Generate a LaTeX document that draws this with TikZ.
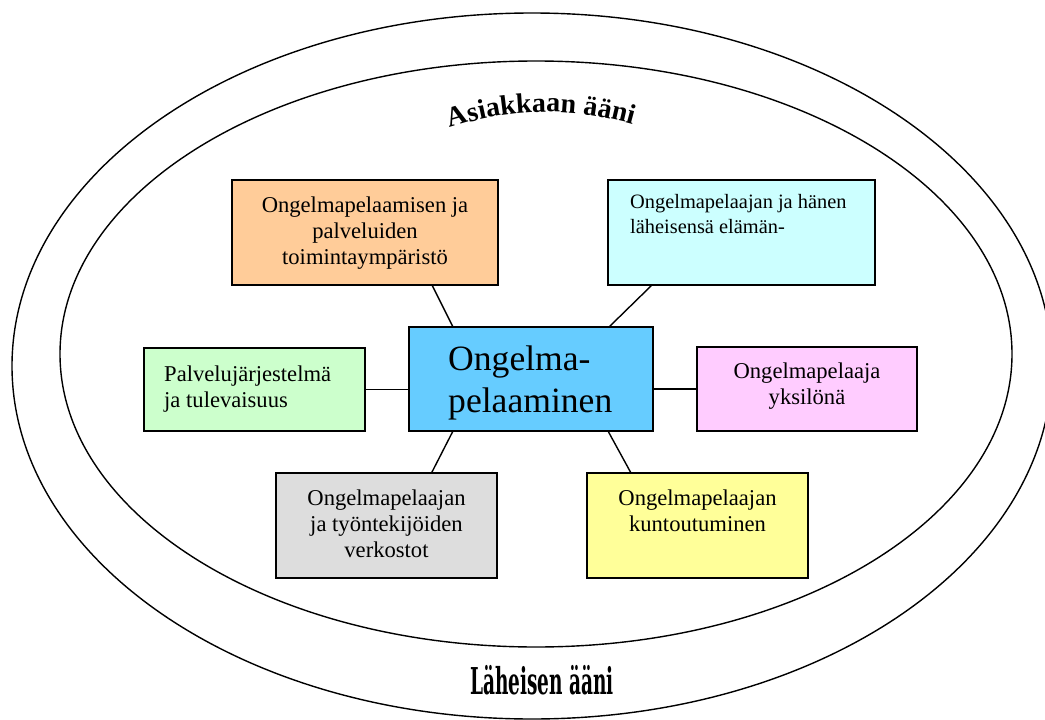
\documentclass[tikz,border=0pt]{standalone}
\usepackage{fontspec}
\setmainfont{Liberation Serif}
\newfontfamily\titlefont{DejaVu Serif}
\usetikzlibrary{decorations.text}
\definecolor{corange}{HTML}{FFCC99}
\definecolor{ccyan}{HTML}{CCFFFF}
\definecolor{cblue}{HTML}{66CCFF}
\definecolor{cgreen}{HTML}{CCFFCC}
\definecolor{cpink}{HTML}{FFCCFF}
\definecolor{cgray}{HTML}{DDDDDD}
\definecolor{cyellow}{HTML}{FFFF99}
\begin{document}
\begin{tikzpicture}[x=1pt,y=-1pt,
  box/.style={draw=black, line width=1.6pt, inner sep=0pt, outer sep=0pt},
  lbl/.style={inner sep=0pt, font=\fontsize{22.6}{26}\selectfont},
  smalllbl/.style={inner sep=0pt, font=\fontsize{20.4}{25}\selectfont},
  bigl/.style={inner sep=0pt, font=\fontsize{35.6}{42}\selectfont},
  ring/.style={draw=black, line width=1.4pt},
  link/.style={draw=black, line width=1.4pt}]
\useasboundingbox (0,0) rectangle (1045,720);
\fill[white] (0,0) rectangle (1045,720);
% ellipses
\draw[ring] (532,366) ellipse [x radius=520, y radius=353];
\draw[ring] (536,354) ellipse [x radius=476, y radius=293];
% titles
\path[decorate, decoration={text along path, text align=center,
  text={|\bfseries\fontsize{28}{28}\selectfont|Asiakkaan ääni}}]
  (438,132) .. controls (508,106) and (575,106) .. (645,128);
\node[inner sep=0pt, anchor=base] (laheisen) at (542,694)
  {\titlefont\bfseries\fontsize{37}{37}\selectfont\scalebox{0.5}[1]{Läheisen ääni}};
% boxes
\node[box, fill=corange, minimum width=266pt, minimum height=105pt] (orange) at (365,232.5) {};
\node[box, fill=ccyan, minimum width=267pt, minimum height=105pt] (cyan) at (741.5,232.5) {};
\node[box, fill=cblue, minimum width=244pt, minimum height=104pt] (center) at (531,379) {};
\node[box, fill=cgreen, minimum width=221pt, minimum height=83pt] (green) at (254.5,389.5) {};
\node[box, fill=cpink, minimum width=220pt, minimum height=84pt] (pink) at (807,389) {};
\node[box, fill=cgray, minimum width=221pt, minimum height=105pt] (gray) at (386.5,525.5) {};
\node[box, fill=cyellow, minimum width=221pt, minimum height=105pt] (yellow) at (697.5,525.5) {};
% texts
\node[lbl, anchor=north, align=center] (orangetext) at (365,196.6)
  {Ongelmapelaamisen ja\\palveluiden\\toimintaympäristö};
\node[smalllbl, anchor=north west, align=left] (cyantext) at (630,194)
  {Ongelmapelaajan ja hänen\\läheisensä elämän-};
\node[bigl, anchor=north west, align=left] (centertext) at (448,345.7)
  {Ongelma-\\pelaaminen};
\node[lbl, anchor=north west, align=left] (greentext) at (164,365.6)
  {Palvelujärjestelmä\\ja tulevaisuus};
\node[lbl, anchor=north, align=center] (pinktext) at (807,362.6)
  {Ongelmapelaaja\\yksilönä};
\node[lbl, anchor=north, align=center] (graytext) at (386.5,489.6)
  {Ongelmapelaajan\\ja työntekijöiden\\verkostot};
\node[lbl, anchor=north, align=center] (yellowtext) at (697.5,489.6)
  {Ongelmapelaajan\\kuntoutuminen};
% connectors
\draw[link] ([xshift=67pt]orange.south) -- ([xshift=-78pt]center.north);
\draw[link] ([xshift=-89.5pt]cyan.south) -- ([xshift=78pt]center.north);
\draw[link] (green.east) -- (green.east -| center.west);
\draw[link] (pink.west) -- (pink.west -| center.east);
\draw[link] ([xshift=45pt]gray.north) -- ([xshift=-78pt]center.south);
\draw[link] ([xshift=-66.5pt]yellow.north) -- ([xshift=77pt]center.south);
\end{tikzpicture}
\end{document}
